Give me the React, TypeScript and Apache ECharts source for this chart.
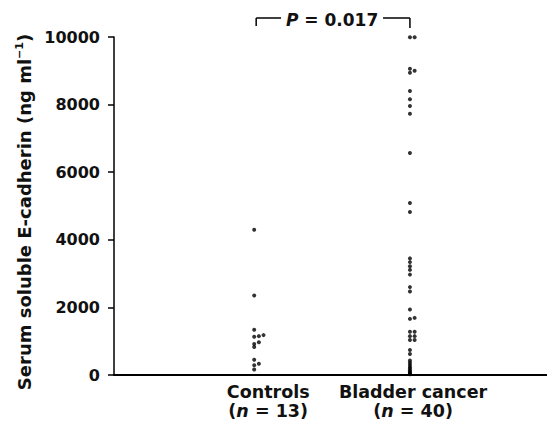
import React, { useEffect, useRef } from "react";
import * as echarts from "echarts";

const categories = ["Controls", "Bladder cancer"];
const groupSizes = [13, 40];
const yMin = 0;
const yMax = 10000;
const yInterval = 2000;
const pLabel = "0.017";

// Controls: values and dot column (side-by-side offset index)
const controlsValues = [4300, 2350, 1340, 1130, 1150, 1180, 970, 920, 830, 450, 330, 290, 160];
const controlsCols = [0, 0, 0, 0, 1, 2, 1, 0, 0, 0, 1, 0, 0];

// Bladder cancer
const cancerValues = [
  9990, 9990, 9060, 9000, 8940, 8400, 8160, 7960, 7730, 6570, 5090, 4820, 3450, 3340, 3220, 3110,
  2970, 2600, 2470, 1940, 1660, 1690, 1280, 1280, 1150, 1150, 1035, 1035, 740, 620, 430, 360, 300,
  240, 190, 140, 100, 70, 40, 20,
];
const cancerCols = [
  0, 1, 0, 1, 0, 0, 0, 0, 0, 0, 0, 0, 0, 0, 0, 0, 0, 0, 0, 0, 0, 1, 0, 1, 0, 1, 0, 1, 0, 0, 0, 0, 0,
  0, 0, 0, 0, 0, 0, 0,
];

const FONT = "DejaVu Sans";
const COL_STEP = 0.03;
const LABEL_SHIFT = [0.09, 0.02]; // category label offset from dot column (axis units)
const INK = "#111";

export default function App() {
  const ref = useRef<HTMLDivElement>(null);
  useEffect(() => {
    if (!ref.current) return;
    const chart = echarts.init(ref.current, null, { renderer: "svg" });
    const toPoints = (vals: number[], cols: number[], g: number) =>
      vals.map((v, i) => [g + cols[i] * COL_STEP, v]);
    chart.setOption({
      animation: false,
      grid: { left: 114, right: 0, top: 37, bottom: 52, containLabel: false },
      xAxis: {
        type: "value",
        min: 0.1,
        max: 2.88,
        axisLine: { show: true, lineStyle: { color: "#000", width: 2 } },
        axisTick: { show: false },
        splitLine: { show: false },
        axisLabel: {
          customValues: categories.map((_, i) => i + 1 + LABEL_SHIFT[i]),
          margin: 7,
          formatter: (v: number) => {
            const i = Math.round(v) - 1;
            return `{a|${categories[i]}}\n{a|(}{i|n}{a| = ${groupSizes[i]})}`;
          },
          rich: {
            a: { fontFamily: FONT, fontSize: 17.5, fontWeight: "bold", color: INK, lineHeight: 19 },
            i: { fontFamily: FONT, fontSize: 17.5, fontWeight: "bold", color: INK, fontStyle: "italic", lineHeight: 19 },
          },
        },
      },
      yAxis: {
        type: "value",
        min: yMin,
        max: yMax,
        interval: yInterval,
        axisLine: { show: true, lineStyle: { color: "#000", width: 1.5 } },
        axisTick: { show: true, length: 6, lineStyle: { color: "#000", width: 1.5 } },
        splitLine: { show: false },
        axisLabel: {
          margin: 14,
          fontFamily: FONT,
          fontSize: 16,
          fontWeight: "bold",
          color: INK,
          formatter: (v: number) => String(v),
        },
        name: "{a|Serum soluble E-cadherin (ng ml}{s|−1}{a|)}",
        nameLocation: "middle",
        nameRotate: 90,
        nameGap: 80,
        nameTextStyle: {
          padding: [0, 12, 0, 0],
          rich: {
            a: { fontFamily: FONT, fontSize: 18, fontWeight: "bold", color: INK },
            s: { fontFamily: FONT, fontSize: 11, fontWeight: "bold", color: INK, verticalAlign: "top", padding: [0, 0, 9, 0] },
          },
        },
      },
      series: [
        {
          type: "scatter",
          data: toPoints(controlsValues, controlsCols, 1),
          symbol: "circle",
          symbolSize: 4,
          itemStyle: { color: "#000" },
        },
        {
          type: "scatter",
          data: toPoints(cancerValues, cancerCols, 2),
          symbol: "circle",
          symbolSize: 4,
          itemStyle: { color: "#000" },
        },
      ],
    });
    const p1 = chart.convertToPixel({ gridIndex: 0 }, [1, yMax]) as number[];
    const p2 = chart.convertToPixel({ gridIndex: 0 }, [2, yMax]) as number[];
    const by = 18;
    const mid = (p1[0] + p2[0]) / 2;
    const ls = { stroke: "#000", lineWidth: 1.5 };
    chart.setOption({
      graphic: [
        { type: "line", shape: { x1: p1[0] + 2, y1: by, x2: p1[0] + 2, y2: by + 8 }, style: ls },
        { type: "line", shape: { x1: p1[0] + 2, y1: by, x2: mid - 51, y2: by }, style: ls },
        { type: "line", shape: { x1: mid + 51, y1: by, x2: p2[0], y2: by }, style: ls },
        { type: "line", shape: { x1: p2[0], y1: by, x2: p2[0], y2: by + 10 }, style: ls },
        {
          type: "text",
          x: mid,
          y: by + 2,
          style: {
            text: `{i|P}{a| = ${pLabel}}`,
            align: "center",
            verticalAlign: "middle",
            rich: {
              a: { fontFamily: FONT, fontSize: 17, fontWeight: "bold", fill: INK },
              i: { fontFamily: FONT, fontSize: 17, fontWeight: "bold", fill: INK, fontStyle: "italic" },
            },
          },
        },
      ],
    });
    return () => chart.dispose();
  }, []);
  return (
    <div
      ref={ref}
      style={{ position: "absolute", left: 0, top: 0, width: 547, height: 427, background: "#fff" }}
    />
  );
}
